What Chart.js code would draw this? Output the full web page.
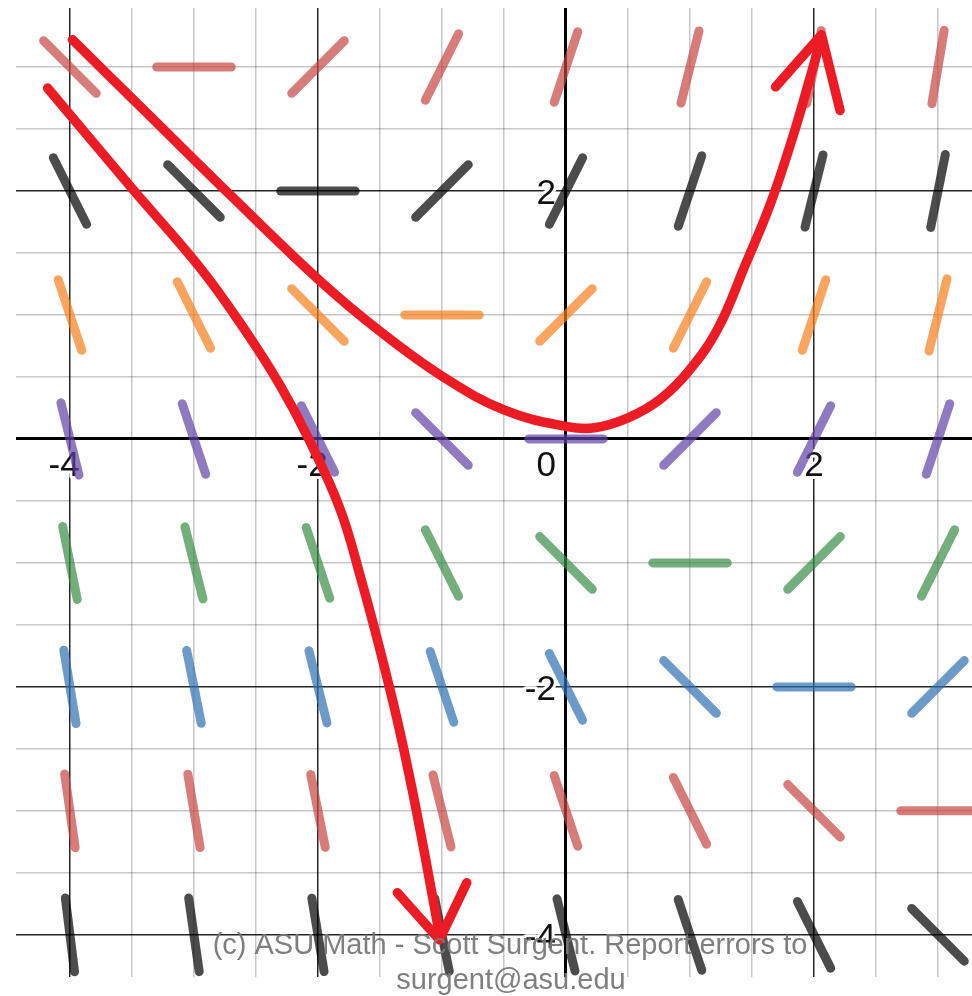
<!DOCTYPE html>
<html>
<head>
<meta charset="utf-8">
<script src="https://cdn.jsdelivr.net/npm/chart.js@4.4.1/dist/chart.umd.min.js"></script>
<style>
  body { margin: 0; background: #fff; }
  #wrap { width: 972px; height: 996px; }
</style>
</head>
<body>
<div id="wrap"><canvas id="slopeChart" width="972" height="996"></canvas></div>
<script>
// grid points of the slope field
const xCats = [-4, -3, -2, -1, 0, 1, 2, 3];
const yRows = [3, 2, 1, 0, -1, -2, -3, -4];

// slopes, one row per y value (top to bottom)
const slopeRows = [
    [-1, 0, 1, 2, 3, 4, 5, 6],
    [-2, -1, 0, 1, 2, 3, 4, 5],
    [-3, -2, -1, 0, 1, 2, 3, 4],
    [-4, -3, -2, -1, 0, 1, 2, 3],
    [-5, -4, -3, -2, -1, 0, 1, 2],
    [-6, -5, -4, -3, -2, -1, 0, 1],
    [-7, -6, -5, -4, -3, -2, -1, 0],
    [-8, -7, -6, -5, -4, -3, -2, -1]
];
const rowColors = [
    'rgba(199, 68, 64, 0.7)',
    'rgba(0, 0, 0, 0.7)',
    'rgba(250, 126, 25, 0.7)',
    'rgba(96, 66, 166, 0.7)',
    'rgba(56, 140, 70, 0.7)',
    'rgba(45, 112, 179, 0.7)',
    'rgba(199, 68, 64, 0.7)',
    'rgba(0, 0, 0, 0.7)'
];

// hand drawn solution curves
const curveAX = [-3.98, -3.36, -2.71, -1.99, -1.49, -0.99, -0.49, 0.01, 0.23, 0.5, 0.76, 1.0, 1.23, 1.44, 1.65, 1.83, 1.97, 2.06];
const curveAY = [3.22, 2.61, 1.97, 1.28, 0.86, 0.5, 0.23, 0.1, 0.09, 0.17, 0.32, 0.56, 0.9, 1.39, 1.9, 2.44, 2.92, 3.24];
const arrowAX = [1.69, 2.06, 2.21];
const arrowAY = [2.84, 3.26, 2.65];

const curveBX = [-4.18, -3.49, -2.95, -2.59, -2.31, -2.07, -1.82, -1.65, -1.5, -1.36, -1.24, -1.13, -1.02];
const curveBY = [2.83, 2.01, 1.38, 0.88, 0.44, -0.01, -0.57, -1.14, -1.7, -2.27, -2.83, -3.4, -4.0];
const arrowBX = [-1.36, -1.02, -0.8];
const arrowBY = [-3.66, -4.04, -3.58];

// grid and tick labels
const gridX = [-4, -3.5, -3, -2.5, -2, -1.5, -1, -0.5, 0, 0.5, 1, 1.5, 2, 2.5, 3];
const gridY = [-4, -3.5, -3, -2.5, -2, -1.5, -1, -0.5, 0, 0.5, 1, 1.5, 2, 2.5, 3];
const xTickLabels = [-4, -2, 0, 2];
const yTickLabels = [2, -2, -4];

const segHalf = 0.3;

function toPoints(xs, ys) {
    return xs.map((x, i) => ({ x: x, y: ys[i] }));
}

function segment(x, y, m) {
    const dx = segHalf / Math.sqrt(1 + m * m);
    return [{ x: x - dx, y: y - m * dx }, { x: x + dx, y: y + m * dx }];
}

const datasets = [];
const redLine = {
    borderColor: '#ed1c24',
    borderWidth: 9.5,
    borderCapStyle: 'round',
    borderJoinStyle: 'round',
    pointRadius: 0,
    showLine: true,
    fill: false
};
datasets.push(Object.assign({ data: toPoints(curveAX, curveAY), tension: 0.4 }, redLine));
datasets.push(Object.assign({ data: toPoints(curveBX, curveBY), tension: 0.4 }, redLine));
datasets.push(Object.assign({ data: toPoints(arrowAX, arrowAY), tension: 0 }, redLine));
datasets.push(Object.assign({ data: toPoints(arrowBX, arrowBY), tension: 0 }, redLine));

yRows.forEach((y, i) => {
    xCats.forEach((x, j) => {
        datasets.push({
            data: segment(x, y, slopeRows[i][j]),
            borderColor: rowColors[i],
            borderWidth: 9,
            borderCapStyle: 'round',
            pointRadius: 0,
            showLine: true,
            tension: 0
        });
    });
});

function gridColor(ctx) {
    const v = ctx.tick ? ctx.tick.value : null;
    if (v === 0) return '#000';
    if (v % 2 === 0) return 'rgba(0, 0, 0, 0.85)';
    return 'rgba(0, 0, 0, 0.22)';
}
function gridWidth(ctx) {
    const v = ctx.tick ? ctx.tick.value : null;
    if (v === 0) return 3;
    return 1.5;
}

// tick labels with a white halo, drawn under the marks
const axisLabels = {
    id: 'axisLabels',
    beforeDatasetsDraw(chart) {
        const c = chart.ctx;
        const xs = chart.scales.x, ys = chart.scales.y;
        const x0 = xs.getPixelForValue(0), y0 = ys.getPixelForValue(0);
        c.save();
        c.font = '35px "Liberation Sans", Arial, sans-serif';
        c.textBaseline = 'alphabetic';
        c.lineJoin = 'round';
        c.strokeStyle = '#fff';
        c.lineWidth = 6;
        c.fillStyle = '#111';
        function put(txt, x, y, align) {
            c.textAlign = align;
            c.strokeText(txt, x, y);
            c.fillText(txt, x, y);
        }
        xTickLabels.forEach(v => {
            const t = String(v);
            if (v === 0) {
                put(t, x0 - 10, y0 + 37, 'right');
            } else {
                const w = c.measureText(String(Math.abs(v))).width;
                put(t, xs.getPixelForValue(v) + w / 2, y0 + 37, 'right');
            }
        });
        yTickLabels.forEach(v => {
            put(String(v), x0 - 10, ys.getPixelForValue(v) + 13, 'right');
        });
        c.restore();
    },
    afterDraw(chart) {
        const c = chart.ctx;
        c.save();
        c.fillStyle = 'rgba(120, 120, 120, 0.95)';
        c.textAlign = 'center';
        c.textBaseline = 'alphabetic';
        let size = 26;
        c.font = size + 'px "Liberation Sans", Arial, sans-serif';
        const line1 = '(c) ASU Math - Scott Surgent. Report errors to';
        const w = c.measureText(line1).width;
        size = size * 595 / w;
        c.font = size + 'px "Liberation Sans", Arial, sans-serif';
        c.fillText(line1, 510, 954);
        c.fillText('surgent@asu.edu', 511, 989);
        c.restore();
    }
};

const chart = new Chart(document.getElementById('slopeChart'), {
    type: 'scatter',
    data: { datasets: datasets },
    options: {
        responsive: false,
        animation: false,
        devicePixelRatio: 1,
        events: [],
        layout: { padding: { left: 16, top: 8, right: 0, bottom: 19 } },
        plugins: { legend: { display: false }, tooltip: { enabled: false } },
        scales: {
            x: {
                type: 'linear',
                min: -4.435,
                max: 3.274,
                afterBuildTicks: s => { s.ticks = gridX.map(v => ({ value: v })); },
                ticks: { display: false },
                border: { display: false },
                grid: { color: gridColor, lineWidth: gridWidth, drawTicks: false }
            },
            y: {
                type: 'linear',
                min: -4.34,
                max: 3.476,
                afterBuildTicks: s => { s.ticks = gridY.map(v => ({ value: v })); },
                ticks: { display: false },
                border: { display: false },
                grid: { color: gridColor, lineWidth: gridWidth, drawTicks: false }
            }
        }
    },
    plugins: [axisLabels]
});
</script>
</body>
</html>
